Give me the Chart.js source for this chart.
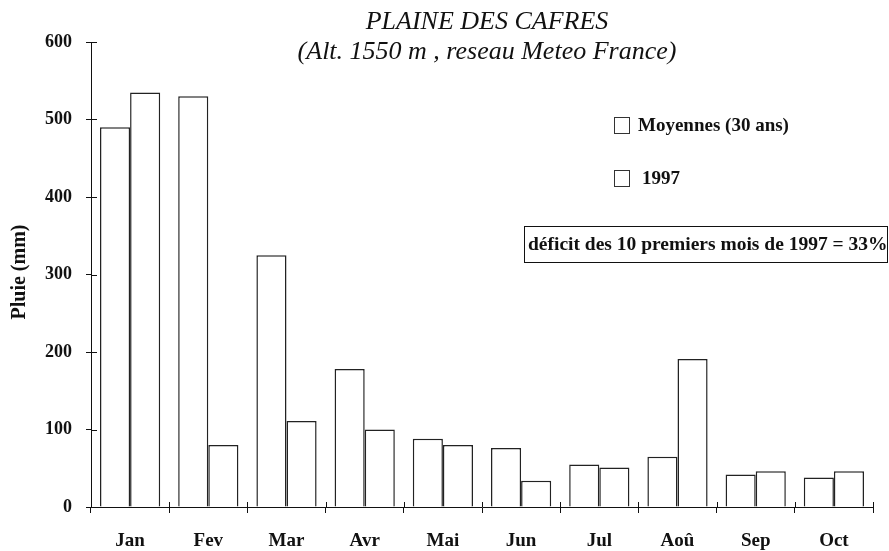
<!DOCTYPE html>
<html>
<head>
<meta charset="utf-8">
<script src="https://cdn.jsdelivr.net/npm/chart.js@4.4.0/dist/chart.umd.min.js"></script>
<style>
  html, body { margin: 0; padding: 0; background: #fff; }
  #myChart { display: block; }
</style>
</head>
<body>
<canvas id="myChart" width="889" height="551"></canvas>
<script>
// données (pluie mensuelle en mm)
const mois = ['Jan', 'Fev', 'Mar', 'Avr', 'Mai', 'Jun', 'Jul', 'Aoû', 'Sep', 'Oct'];
const moyennes = [490, 530, 325, 178, 88, 76, 55, 65, 42, 38];
const pluie1997 = [535, 80, 111, 100, 80, 34, 51, 191, 46, 46];
const yTicks = [0, 100, 200, 300, 400, 500, 600];
const titre = ['PLAINE DES CAFRES', '(Alt. 1550 m , reseau Meteo France)'];
const axeY = 'Pluie (mm)';
const note = 'déficit des 10 premiers mois de 1997 = 33%';

const SERIF = "'Liberation Serif', 'Times New Roman', serif";
const INK = '#111';

// petits traits qui traversent les axes + textes (titre, légende, encadré)
const decor = {
    id: 'decor',
    afterDraw(chart) {
        const { ctx, chartArea, scales: { x, y } } = chart;
        ctx.save();
        ctx.strokeStyle = INK;
        ctx.lineWidth = 1;
        ctx.beginPath();
        y.ticks.forEach(t => {
            const py = Math.round(y.getPixelForValue(t.value)) + 0.5;
            ctx.moveTo(chartArea.left, py);
            ctx.lineTo(chartArea.left + 6, py);
        });
        for (let i = 0; i <= mois.length; i++) {
            const px = Math.round(x.getPixelForValue(i - 0.5)) + 0.5;
            ctx.moveTo(px, chartArea.bottom);
            ctx.lineTo(px, chartArea.bottom - 5);
        }
        ctx.stroke();

        // titre
        ctx.fillStyle = INK;
        ctx.textAlign = 'center';
        ctx.textBaseline = 'middle';
        ctx.font = 'italic 26px ' + SERIF;
        ctx.fillText(titre[0], 487, 22);
        ctx.fillText(titre[1], 487, 52);

        // titre axe y
        ctx.save();
        ctx.translate(20, 272);
        ctx.rotate(-Math.PI / 2);
        ctx.font = 'bold 20px ' + SERIF;
        ctx.fillText(axeY, 0, 0);
        ctx.restore();

        // légende
        ctx.textAlign = 'left';
        ctx.font = 'bold 19px ' + SERIF;
        const rows = [126, 179];
        chart.data.datasets.forEach((ds, i) => {
            ctx.strokeStyle = '#333';
            ctx.strokeRect(614.5, rows[i] - 8.5, 15, 16);
            ctx.fillText(ds.label, i === 0 ? 638 : 642, rows[i]);
        });

        // encadré déficit
        ctx.strokeStyle = INK;
        ctx.font = 'bold 19.5px ' + SERIF;
        ctx.strokeRect(524.5, 226.5, 363, 36);
        ctx.fillText(note, 528, 245);
        ctx.restore();
    }
};

const ctx = document.getElementById('myChart').getContext('2d');
new Chart(ctx, {
    type: 'bar',
    data: {
        labels: mois,
        datasets: [
            {
                label: 'Moyennes (30 ans)',
                data: moyennes,
                backgroundColor: '#fff',
                borderColor: '#222',
                borderWidth: 1.5,
                categoryPercentage: 0.77,
                barPercentage: 1.0
            },
            {
                label: '1997',
                data: pluie1997,
                backgroundColor: '#fff',
                borderColor: '#222',
                borderWidth: 1.5,
                categoryPercentage: 0.77,
                barPercentage: 1.0
            }
        ]
    },
    options: {
        responsive: false,
        animation: false,
        layout: { padding: { top: 42, right: 16, left: 0, bottom: 0 } },
        plugins: {
            legend: { display: false },
            title: { display: false },
            tooltip: { enabled: false }
        },
        scales: {
            x: {
                grid: { display: true, drawOnChartArea: false, color: INK, tickLength: 6 },
                border: { display: true, color: INK, width: 1 },
                ticks: { color: INK, padding: 17, font: { family: SERIF, size: 19, weight: 'bold' } },
                afterFit: s => { s.height = 44; }
            },
            y: {
                min: 0,
                max: 600,
                afterBuildTicks: s => { s.ticks = yTicks.map(v => ({ value: v })); },
                grid: { display: true, drawOnChartArea: false, color: INK, tickLength: 5 },
                border: { display: true, color: INK, width: 1 },
                ticks: { color: INK, padding: 14, font: { family: SERIF, size: 18, weight: 'bold' } },
                afterFit: s => { s.width = 91; }
            }
        }
    },
    plugins: [decor]
});
</script>
</body>
</html>
